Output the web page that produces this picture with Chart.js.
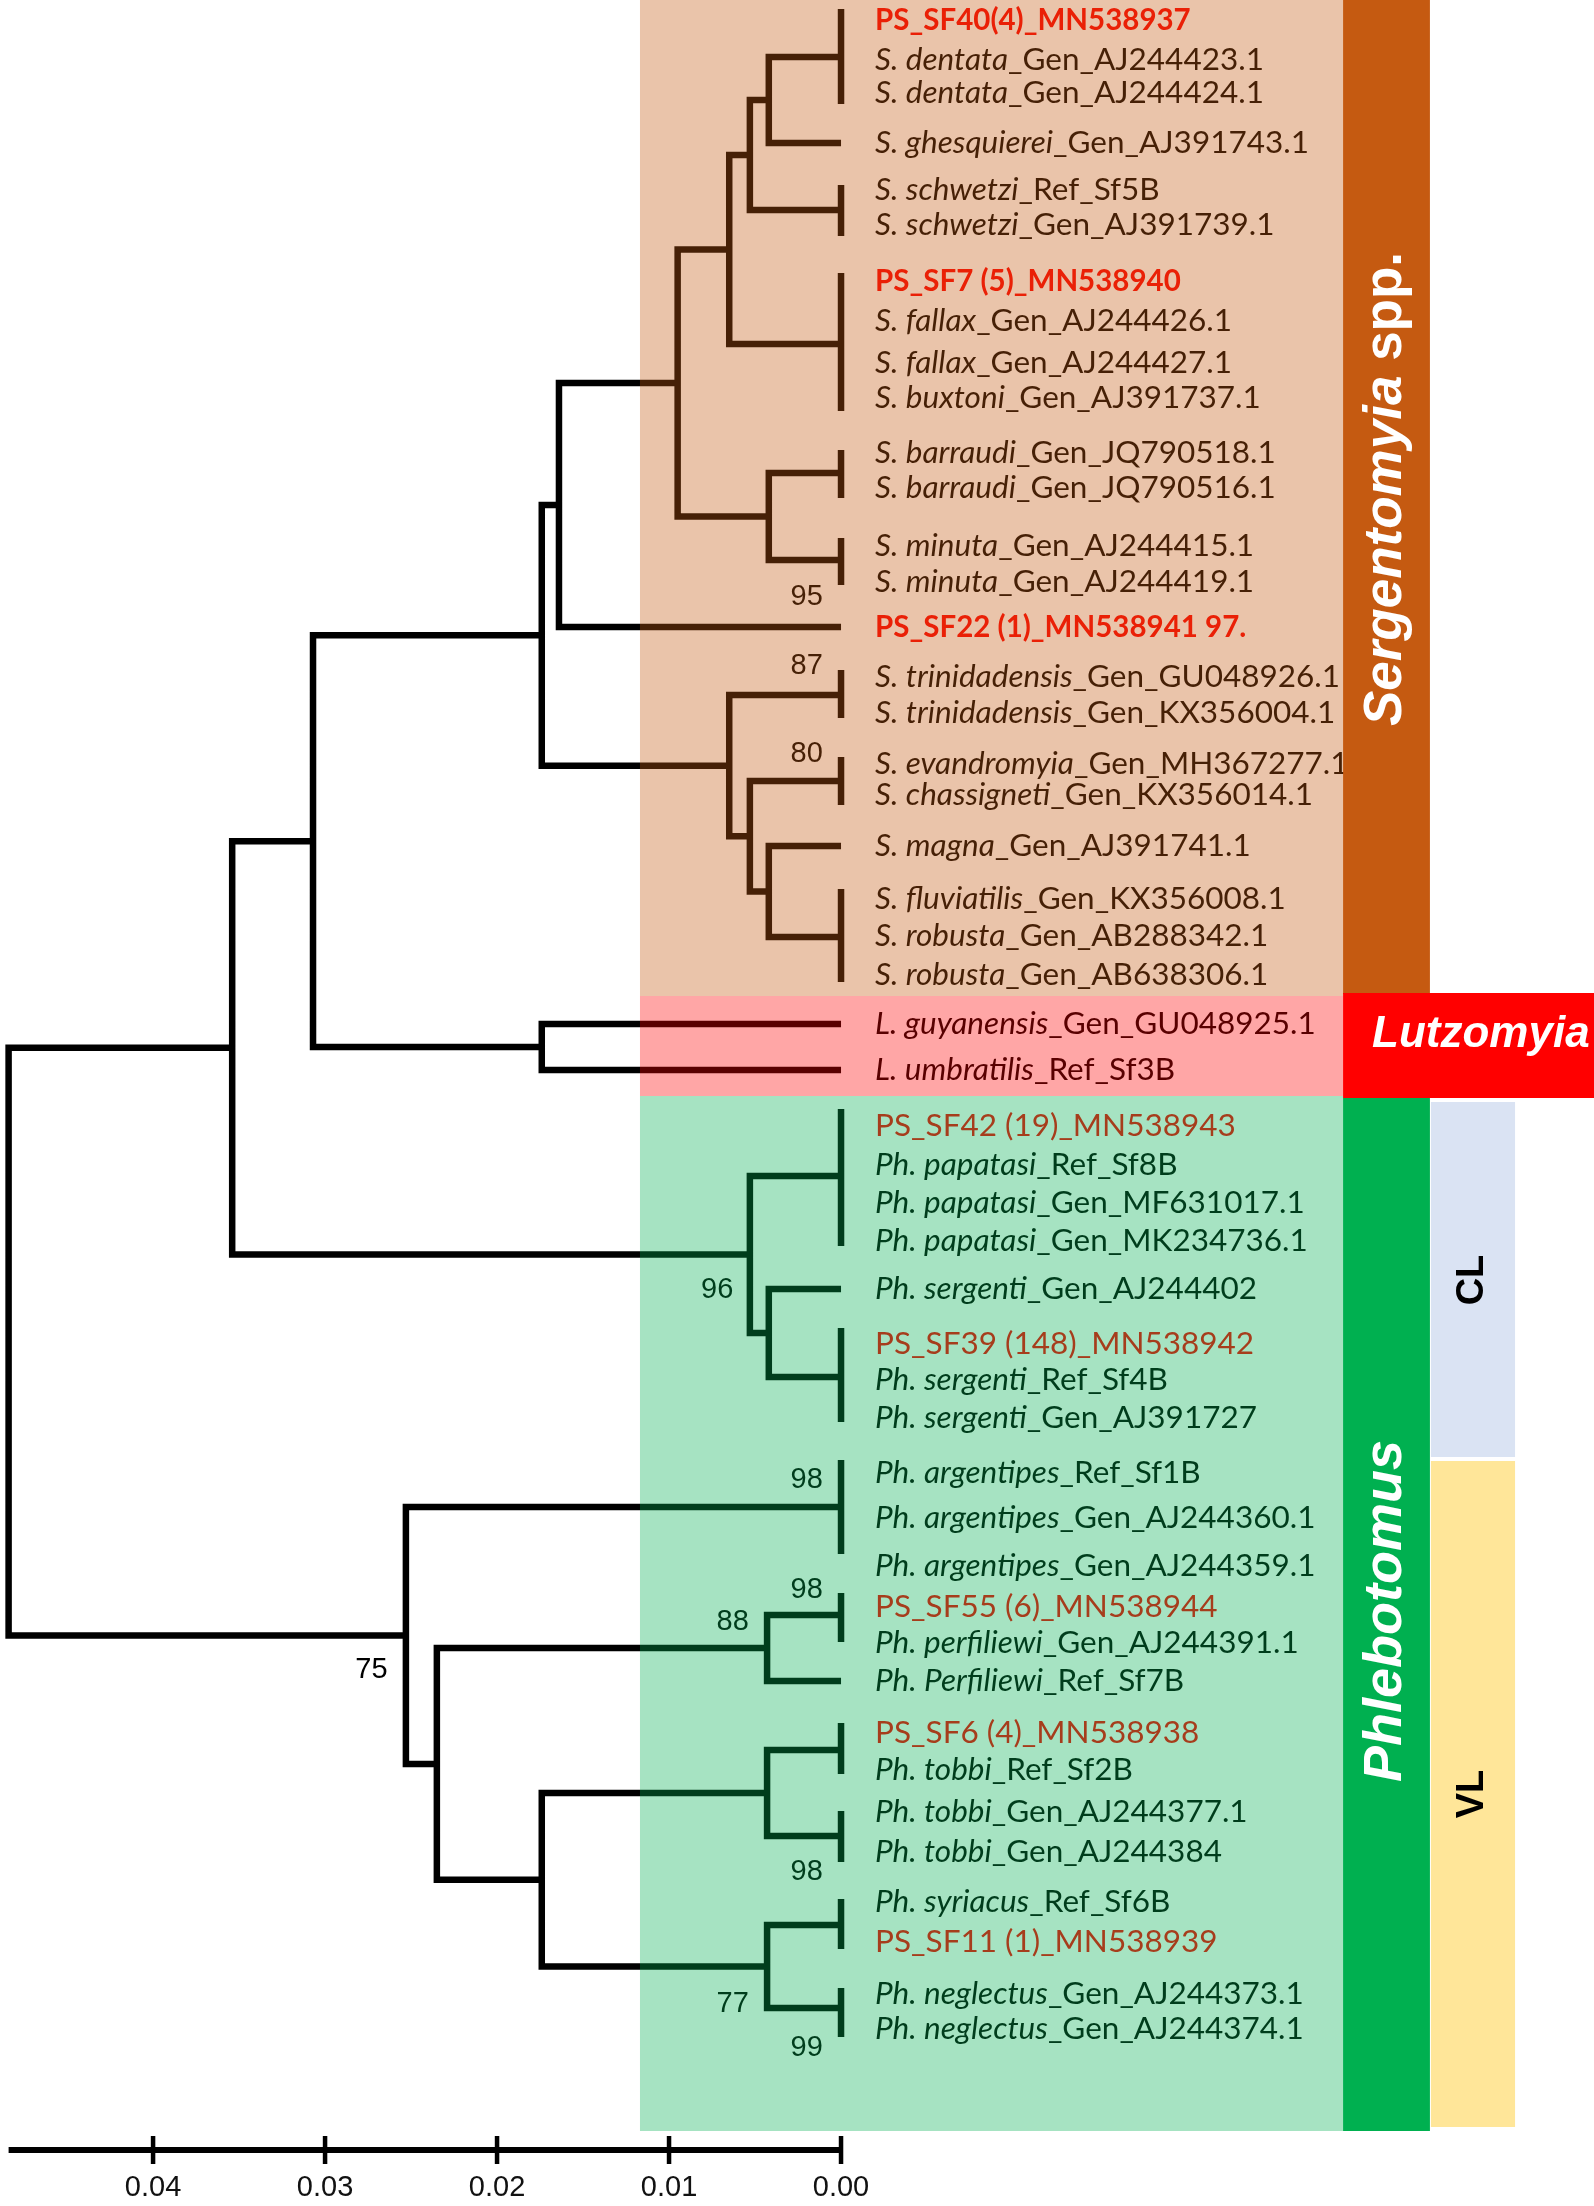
<!DOCTYPE html>
<html>
<head>
<meta charset="utf-8">
<script src="https://cdn.jsdelivr.net/npm/chart.js@4.4.1/dist/chart.umd.min.js"></script>
<style>
    html, body { margin: 0; padding: 0; background: #fff; }
    #wrap { position: relative; width: 1594px; height: 2206px; }
</style>
</head>
<body>
<div id="wrap"><canvas id="tree"></canvas></div>
<script>
//! leaves, top to bottom: italic part, rest of the name, vertical position, 2 = red bold, 1 = red
var tipItalic = ['', 'S. dentata', 'S. dentata', 'S. ghesquierei', 'S. schwetzi', 'S. schwetzi',
    '', 'S. fallax', 'S. fallax', 'S. buxtoni', 'S. barraudi', 'S. barraudi', 'S. minuta', 'S. minuta',
    '', 'S. trinidadensis', 'S. trinidadensis', 'S. evandromyia', 'S. chassigneti', 'S. magna',
    'S. fluviatilis', 'S. robusta', 'S. robusta', 'L. guyanensis', 'L. umbratilis',
    '', 'Ph. papatasi', 'Ph. papatasi', 'Ph. papatasi', 'Ph. sergenti', '', 'Ph. sergenti', 'Ph. sergenti',
    'Ph. argentipes', 'Ph. argentipes', 'Ph. argentipes', '', 'Ph. perfiliewi', 'Ph. Perfiliewi',
    '', 'Ph. tobbi', 'Ph. tobbi', 'Ph. tobbi', 'Ph. syriacus', '', 'Ph. neglectus', 'Ph. neglectus'];
var tipRest = ['PS_SF40(4)_MN538937', '_Gen_AJ244423.1', '_Gen_AJ244424.1', '_Gen_AJ391743.1', '_Ref_Sf5B', '_Gen_AJ391739.1',
    'PS_SF7 (5)_MN538940', '_Gen_AJ244426.1', '_Gen_AJ244427.1', '_Gen_AJ391737.1', '_Gen_JQ790518.1', '_Gen_JQ790516.1', '_Gen_AJ244415.1', '_Gen_AJ244419.1',
    'PS_SF22 (1)_MN538941 97.', '_Gen_GU048926.1', '_Gen_KX356004.1', '_Gen_MH367277.1', '_Gen_KX356014.1', '_Gen_AJ391741.1',
    '_Gen_KX356008.1', '_Gen_AB288342.1', '_Gen_AB638306.1', '_Gen_GU048925.1', '_Ref_Sf3B',
    'PS_SF42 (19)_MN538943', '_Ref_Sf8B', '_Gen_MF631017.1', '_Gen_MK234736.1', '_Gen_AJ244402', 'PS_SF39 (148)_MN538942', '_Ref_Sf4B', '_Gen_AJ391727',
    '_Ref_Sf1B', '_Gen_AJ244360.1', '_Gen_AJ244359.1', 'PS_SF55 (6)_MN538944', '_Gen_AJ244391.1', '_Ref_Sf7B',
    'PS_SF6 (4)_MN538938', '_Ref_Sf2B', '_Gen_AJ244377.1', '_Gen_AJ244384', '_Ref_Sf6B', 'PS_SF11 (1)_MN538939', '_Gen_AJ244373.1', '_Gen_AJ244374.1'];
var tipY = [20, 60, 93, 143, 190, 225, 281, 321, 363, 398, 453, 488, 546, 582, 627, 677, 713, 764, 795, 846,
    899, 936, 975, 1024, 1070, 1126, 1165, 1203, 1241, 1289, 1344, 1380, 1418, 1473, 1518, 1566,
    1607, 1643, 1681, 1733, 1770, 1812, 1852, 1902, 1942, 1994, 2029];
var tipRed = [2, 0, 0, 0, 0, 0, 2, 0, 0, 0, 0, 0, 0, 0, 2, 0, 0, 0, 0, 0, 0, 0, 0, 0, 0,
    1, 0, 0, 0, 0, 1, 0, 0, 0, 0, 0, 1, 0, 0, 1, 0, 0, 0, 0, 1, 0, 0];

//! collapsed clades (bar at distance 0): top, bottom, where the branch joins
var barTop = [9, 185, 273, 450, 538, 670, 757, 889, 1109, 1328, 1460, 1593, 1723, 1811, 1899, 1988];
var barBottom = [104, 236, 411, 498, 585, 718, 805, 982, 1246, 1422, 1554, 1642, 1774, 1862, 1949, 2037];
var barY = [57, 210, 344, 473, 560, 695, 781, 937, 1176, 1377, 1507, 1615, 1750, 1836, 1925, 2008];

//! internal nodes: distance and two children ('b' bar, 't' tip, 'n' node)
var nodeDist = [0.0042, 0.0053, 0.0065, 0.0042, 0.0095, 0.0164, 0.0042, 0.0053, 0.0065, 0.0174, 0.0174,
    0.0307, 0.0042, 0.0053, 0.0354, 0.0043, 0.0043, 0.0043, 0.0174, 0.0235, 0.0253, 0.0484];
var nodeKids = [['b0', 't3'], ['n0', 'b1'], ['n1', 'b2'], ['b3', 'b4'], ['n2', 'n3'], ['n4', 't14'],
    ['t19', 'b7'], ['b6', 'n6'], ['b5', 'n7'], ['n5', 'n8'], ['t23', 't24'], ['n9', 'n10'],
    ['t29', 'b9'], ['b8', 'n12'], ['n11', 'n13'], ['b11', 't38'], ['b12', 'b13'], ['b14', 'b15'],
    ['n16', 'n17'], ['n15', 'n18'], ['b10', 'n19'], ['n14', 'n20']];

//! bootstrap values
var bootText = ['95', '87', '80', '96', '98', '98', '88', '75', '98', '77', '99'];
var bootDist = [0.0020, 0.0020, 0.0020, 0.0072, 0.0020, 0.0020, 0.0063, 0.0273, 0.0020, 0.0063, 0.0020];
var bootY = [597, 666, 754, 1290, 1480, 1590, 1622, 1670, 1872, 2004, 2048];

//! scale bar
var scaleTicks = [0, 0.01, 0.02, 0.03, 0.04];
var scaleFrom = 0.0484;
var scaleY = 2150;


function kidY(k) {
    var i = parseInt(k.slice(1), 10);
    if (k[0] === 'b') return barY[i];
    if (k[0] === 't') return tipY[i];
    var a = kidY(nodeKids[i][0]), b = kidY(nodeKids[i][1]);
    return (a + b) / 2;
}
function kidDist(k) {
    return k[0] === 'n' ? nodeDist[parseInt(k.slice(1), 10)] : 0;
}

var branches = [];
nodeKids.forEach(function (kids, i) {
    var ya = kidY(kids[0]), yb = kidY(kids[1]);
    branches.push({ x: kidDist(kids[0]), y: ya }, { x: nodeDist[i], y: ya },
        { x: nodeDist[i], y: yb }, { x: kidDist(kids[1]), y: yb }, { x: 0, y: null });
});
barTop.forEach(function (t, i) {
    branches.push({ x: 0, y: t }, { x: 0, y: barBottom[i] }, { x: 0, y: null });
});

var scaleLine = [{ x: scaleFrom, y: scaleY }, { x: 0, y: scaleY }];
var scaleMarks = [];
scaleTicks.forEach(function (v) {
    scaleMarks.push({ x: v, y: scaleY - 14 }, { x: v, y: scaleY + 14 }, { x: v, y: null });
});

var LABEL_FONT = 'Lato, "Open Sans", sans-serif';

var treeDecor = {
    id: 'treeDecor',
    afterDatasetsDraw: function (chart) {
        var ctx = chart.ctx, xs = chart.scales.x, ys = chart.scales.y;
        var px = function (v) { return xs.getPixelForValue(v); };
        var py = function (v) { return ys.getPixelForValue(v); };

        ctx.save();
        ctx.textBaseline = 'middle';
        ctx.textAlign = 'left';
        //! leaf names
        var lx = px(-0.00198);
        tipRest.forEach(function (rest, i) {
            var y = py(tipY[i]);
            ctx.fillStyle = tipRed[i] ? '#ff0000' : '#000';
            var w = 0;
            if (tipItalic[i]) {
                ctx.font = 'italic 31.5px ' + LABEL_FONT;
                ctx.fillText(tipItalic[i], lx, y);
                w = ctx.measureText(tipItalic[i]).width;
            }
            ctx.font = tipRed[i] === 2 ? 'bold 29.5px ' + LABEL_FONT : '31.5px ' + LABEL_FONT;
            ctx.fillText(rest, lx + w, y);
        });
        //! bootstrap
        ctx.textAlign = 'center';
        ctx.fillStyle = '#000';
        ctx.font = '29px "Liberation Sans", Arial, sans-serif';
        bootText.forEach(function (t, i) {
            ctx.fillText(t, px(bootDist[i]), py(bootY[i]));
        });

        //! see-through boxes over the tree
        var left = px(0.01169), right = px(-0.02919);
        ctx.fillStyle = 'rgba(197,90,17,0.357)';
        ctx.fillRect(left, py(0), right - left, py(996) - py(0));
        ctx.fillStyle = 'rgba(255,0,0,0.35)';
        ctx.fillRect(left, py(996), right - left, py(1096) - py(996));
        ctx.fillStyle = 'rgba(0,176,80,0.35)';
        ctx.fillRect(left, py(1096), right - left, py(2131) - py(1096));

        //! genus bands
        var bandR = px(-0.03424), lutzR = px(-0.04378), dzR = px(-0.03919);
        ctx.fillStyle = '#c55a11';
        ctx.fillRect(right, py(0), bandR - right, py(994) - py(0));
        ctx.fillStyle = '#ff0000';
        ctx.fillRect(right, py(993), lutzR - right, py(1098) - py(993));
        ctx.fillStyle = '#00b050';
        ctx.fillRect(right, py(1098), bandR - right, py(2131) - py(1098));
        ctx.fillStyle = '#dae3f3';
        ctx.fillRect(bandR + 1, py(1102), dzR - bandR - 1, py(1457) - py(1102));
        ctx.fillStyle = '#ffe699';
        ctx.fillRect(bandR + 1, py(1461), dzR - bandR - 1, py(2127) - py(1461));

        function vtext(parts, cx, cy, color) {
            ctx.save();
            ctx.translate(cx, cy);
            ctx.rotate(-Math.PI / 2);
            ctx.fillStyle = color;
            ctx.textAlign = 'left';
            var total = 0;
            parts.forEach(function (p) { ctx.font = p[1]; total += ctx.measureText(p[0]).width; });
            var x = -total / 2;
            parts.forEach(function (p) { ctx.font = p[1]; ctx.fillText(p[0], x, 0); x += ctx.measureText(p[0]).width; });
            ctx.restore();
        }
        var GF = '"Liberation Sans", Arial, sans-serif';
        vtext([['Sergentomyia ', 'italic bold 53px ' + GF], ['spp.', 'bold 53px ' + GF]], (right + bandR) / 2, py(489), '#fff');
        vtext([['Phlebotomus', 'italic bold 54px ' + GF]], (right + bandR) / 2, py(1611), '#fff');
        vtext([['CL', 'bold 38px ' + GF]], (bandR + dzR) / 2, py(1280), '#000');
        vtext([['VL', 'bold 38px ' + GF]], (bandR + dzR) / 2, py(1794), '#000');
        ctx.textAlign = 'center';
        ctx.fillStyle = '#fff';
        ctx.font = 'italic bold 44px ' + GF;
        ctx.fillText('Lutzomyia', px(-0.0372), py(1035));

        //! scale bar numbers
        ctx.fillStyle = '#111';
        ctx.font = '29px ' + GF;
        scaleTicks.forEach(function (v) {
            ctx.fillText(v.toFixed(2), px(v), py(2188));
        });
        ctx.restore();
    }
};

var treeChart = new Chart(document.getElementById('tree').getContext('2d'), {
    type: 'scatter',
    data: {
        datasets: [
            {
                label: 'tree',
                data: branches,
                showLine: true,
                borderColor: '#000',
                borderWidth: 6.5,
                borderCapStyle: 'butt',
                borderJoinStyle: 'miter',
                pointRadius: 0,
                tension: 0,
                spanGaps: false
            },
            {
                label: 'scale',
                data: scaleLine,
                showLine: true,
                borderColor: '#000',
                borderWidth: 6,
                borderCapStyle: 'butt',
                pointRadius: 0
            },
            {
                label: 'ticks',
                data: scaleMarks,
                showLine: true,
                borderColor: '#000',
                borderWidth: 4.5,
                borderCapStyle: 'butt',
                pointRadius: 0,
                spanGaps: false
            }]
    },
    options: {
        responsive: true,
        maintainAspectRatio: false,
        animation: false,
        events: [],
        layout: { padding: 0 },
        plugins: { legend: { display: false }, tooltip: { enabled: false } },
        scales: {
            x: { type: 'linear', reverse: true, min: -0.04378, max: 0.0489, display: false },
            y: { type: 'linear', reverse: true, min: 0, max: 2206, display: false }
        }
    },
    plugins: [treeDecor]
});
</script>
</body>
</html>
